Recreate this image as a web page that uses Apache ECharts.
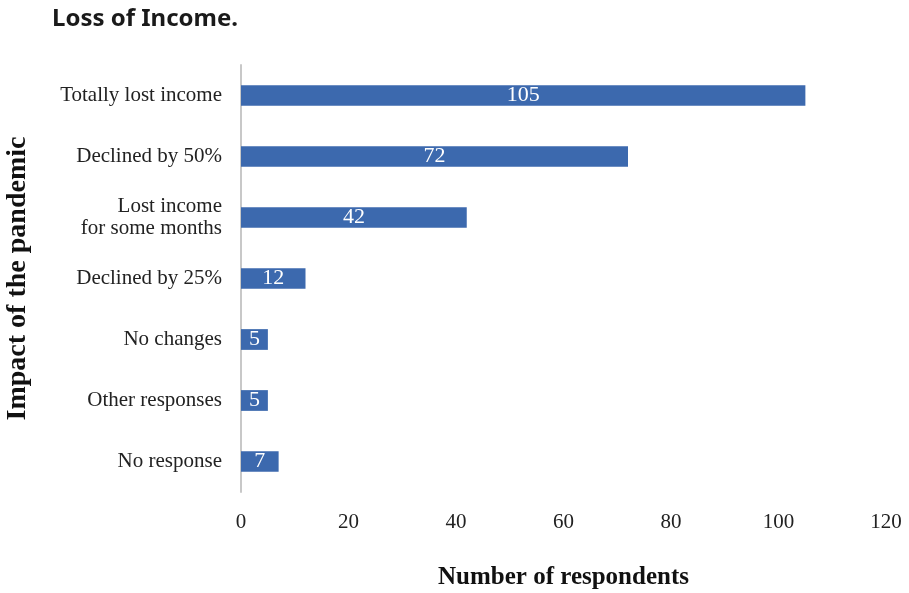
<!DOCTYPE html>
<html>
<head>
<meta charset="utf-8">
<script src="https://cdn.jsdelivr.net/npm/echarts@6/dist/echarts.min.js"></script>
<style>
  html, body { margin: 0; padding: 0; background: #fff; }
  #chart { width: 909px; height: 593px; }
</style>
</head>
<body>
<div id="chart"></div>
<script>
// Survey categories, top to bottom
const categories = [
  'Totally lost income',
  'Declined by 50%',
  'Lost income\nfor some months',
  'Declined by 25%',
  'No changes',
  'Other responses',
  'No response'
];
// Number of respondents per category
const respondents = [105, 72, 42, 12, 5, 5, 7];
// Value axis range
const xMin = 0;
const xMax = 120;
const xStep = 20;

const serif = '"Liberation Serif", "DejaVu Serif", serif';

const chart = echarts.init(document.getElementById('chart'), null, { renderer: 'canvas' });
chart.setOption({
  backgroundColor: '#ffffff',
  animation: false,
  title: {
    text: 'Loss of Income.',
    left: 47,
    top: 2,
    textStyle: {
      fontFamily: '"Noto Sans", "Open Sans", sans-serif',
      fontWeight: 'bold',
      fontSize: 24,
      color: '#1a1a1a'
    }
  },
  grid: { left: 241, right: 23, top: 65, bottom: 101, outerBoundsMode: 'none', containLabel: false },
  xAxis: {
    type: 'value',
    min: xMin,
    max: xMax,
    interval: xStep,
    axisLine: { show: false },
    axisTick: { show: false },
    splitLine: { show: false },
    axisLabel: {
      margin: 20,
      fontFamily: serif,
      fontSize: 21,
      color: '#222'
    },
    name: 'Number of respondents',
    nameLocation: 'middle',
    nameGap: 73,
    nameTextStyle: {
      fontFamily: serif,
      fontWeight: 'bold',
      fontSize: 25,
      color: '#111'
    }
  },
  yAxis: {
    type: 'category',
    data: categories,
    inverse: true,
    axisLine: { show: true, lineStyle: { color: '#c8c8c8', width: 2 } },
    axisTick: { show: false },
    axisLabel: {
      margin: 19,
      fontFamily: serif,
      fontSize: 21,
      lineHeight: 22,
      color: '#222',
      align: 'right',
      padding: [4, 0, 0, 0]
    },
    name: 'Impact of the pandemic',
    nameLocation: 'middle',
    nameGap: 209,
    nameRotate: 90,
    nameTextStyle: {
      fontFamily: serif,
      fontWeight: 'bold',
      fontSize: 28,
      color: '#111'
    }
  },
  series: [{
    type: 'bar',
    data: respondents,
    barWidth: '34%',
    itemStyle: { color: '#3c69ae' },
    label: {
      show: true,
      position: 'inside',
      fontFamily: serif,
      fontSize: 22,
      color: '#ffffff'
    }
  }]
});
</script>
</body>
</html>
